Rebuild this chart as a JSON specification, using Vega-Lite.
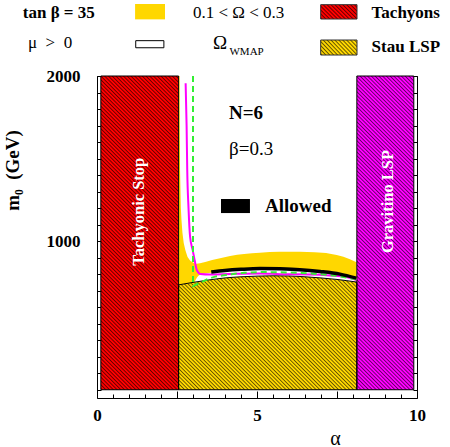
{
"$schema": "https://vega.github.io/schema/vega-lite/v6.json",
"width": 320, "height": 322,
"autosize": {"type": "none"},
"padding": {"left": 97, "top": 76, "right": 33, "bottom": 49},
"background": "white",
"config": {
 "view": {"stroke": "black", "strokeWidth": 1},
 "axis": {"domain": false, "grid": false, "tickColor": "black", "tickWidth": 1, "labelFont": "Liberation Serif", "labelFontSize": 17, "labelFontWeight": "bold", "labelColor": "black", "titleFont": "Liberation Serif", "titleColor": "black", "labelFlush": false, "labelOverlap": false}
},
"resolve": {"axis": {"x": "independent", "y": "independent"}},
"datasets": {
 "stau": [{"a":2.55,"top":735},{"a":3.0,"top":750},{"a":3.5,"top":765},{"a":4.0,"top":777},{"a":4.5,"top":784},{"a":5.0,"top":788},{"a":5.5,"top":790},{"a":6.0,"top":789},{"a":6.5,"top":784},{"a":7.0,"top":777},{"a":7.5,"top":768},{"a":8.12,"top":752}],
 "band": [{"a":2.56,"lo":735,"hi":858},{"a":3.0,"lo":750,"hi":860},{"a":3.22,"lo":757,"hi":866},{"a":3.6,"lo":767,"hi":885},{"a":4.16,"lo":779,"hi":910},{"a":4.6,"lo":785,"hi":922},{"a":5.09,"lo":788,"hi":930},{"a":5.7,"lo":790,"hi":935},{"a":6.34,"lo":786,"hi":936},{"a":6.8,"lo":780,"hi":932},{"a":7.28,"lo":772,"hi":924},{"a":7.7,"lo":764,"hi":905},{"a":8.11,"lo":752,"hi":872}],
 "funnel": [{"m":745,"r":3.1},{"m":860,"r":3.1},{"m":880,"r":2.92},{"m":904,"r":2.83},{"m":946,"r":2.76},{"m":989,"r":2.71},{"m":1050,"r":2.67},{"m":1128,"r":2.64},{"m":1200,"r":2.62},{"m":1431,"r":2.595},{"m":1700,"r":2.585},{"m":2000,"r":2.58}],
 "wmap": [{"a":3.05,"lo":751,"hi":753},{"a":3.2,"lo":756,"hi":795},{"a":3.6,"lo":767,"hi":810},{"a":4.0,"lo":777,"hi":818},{"a":4.5,"lo":784,"hi":826},{"a":5.0,"lo":788,"hi":830},{"a":5.5,"lo":790,"hi":832},{"a":6.0,"lo":789,"hi":830},{"a":6.5,"lo":784,"hi":825},{"a":7.0,"lo":777,"hi":815},{"a":7.5,"lo":768,"hi":800},{"a":8.11,"lo":752,"hi":772}],
 "magenta": [{"a":2.77,"m":1956},{"a":2.8,"m":1700},{"a":2.82,"m":1431},{"a":2.86,"m":1200},{"a":2.91,"m":1025},{"a":2.99,"m":946},{"a":3.05,"m":886},{"a":3.12,"m":825},{"a":3.23,"m":801},{"a":3.53,"m":798},{"a":4.16,"m":801},{"a":5.09,"m":804},{"a":5.72,"m":800},{"a":6.66,"m":798},{"a":7.28,"m":792},{"a":7.8,"m":782},{"a":8.1,"m":765}],
 "green": [{"a":3.0,"m":2000},{"a":3.0,"m":728},{"a":3.22,"m":748},{"a":3.47,"m":771},{"a":3.69,"m":785},{"a":4.2,"m":800},{"a":4.6,"m":808},{"a":5.09,"m":813},{"a":5.72,"m":811},{"a":6.3,"m":808},{"a":6.9,"m":801},{"a":7.5,"m":790},{"a":8.1,"m":769}],
 "allowed": [{"a":3.57,"m":813},{"a":4.0,"m":822},{"a":4.5,"m":829},{"a":5.09,"m":834},{"a":5.72,"m":832},{"a":6.34,"m":827},{"a":6.97,"m":816},{"a":7.59,"m":800},{"a":8.1,"m":776}]
},
"layer": [
 {"data": {"values": [{"a0":0.12,"a1":2.55,"m0":100,"m1":2000}]},
  "mark": {"type": "rect", "fill": "#ff0000"},
  "encoding": {
   "x": {"field": "a0", "type": "quantitative", "scale": {"domain": [0,10], "nice": false, "zero": false},
         "axis": {"orient": "bottom", "values": [0,2.5,5,7.5,10], "tickSize": -7, "labelPadding": 16, "labelExpr": "datum.value % 5 == 0 ? '' + datum.value : ''", "title": "α", "titleFontSize": 20, "titleFontWeight": "normal", "titleX": 238, "titleY": 46, "titleBaseline": "alphabetic", "titleAlign": "center", "titleAngle": 0}},
   "x2": {"field": "a1"},
   "y": {"field": "m0", "type": "quantitative", "scale": {"domain": [50,2000], "nice": false, "zero": false},
         "axis": {"orient": "left", "values": [1000,2000], "tickSize": -7, "labelPadding": 24, "format": "d", "title": "m\u2080\u00a0 (GeV)", "titleFontSize": 19, "titleFontWeight": "bold", "titleX": -85, "titleY": 94, "titleAngle": 270, "titleAlign": "center", "titleBaseline": "middle"}},
   "y2": {"field": "m1"}
  }},
 {"data": {"values": [{"a0":8.12,"a1":9.9,"m0":100,"m1":2000}]},
  "mark": {"type": "rect", "fill": "#ff00ff"},
  "encoding": {
   "x": {"field": "a0", "type": "quantitative", "axis": {"orient": "bottom", "values": [0.5,1,1.5,2,3,3.5,4,4.5,5.5,6,6.5,7,8,8.5,9,9.5], "tickSize": -4, "labels": false, "title": null}},
   "x2": {"field": "a1"},
   "y": {"field": "m0", "type": "quantitative", "axis": {"orient": "left", "values": [100,200,300,400,500,600,700,800,900,1100,1200,1300,1400,1500,1600,1700,1800,1900], "tickSize": -4, "labels": false, "title": null}},
   "y2": {"field": "m1"}
  }},
 {"data": {"name": "stau"},
  "mark": {"type": "area", "fill": "#ffd700", "interpolate": "monotone"},
  "encoding": {
   "x": {"field": "a", "type": "quantitative", "axis": null},
   "y": {"field": "top", "type": "quantitative", "axis": null},
   "y2": {"datum": 100}
  }},
 {"data": {"values": [{}]},
  "mark": {"type": "rect", "fillOpacity": 0.62, "fill": {"gradient": "linear", "x1": 0, "y1": 1, "x2": 1, "y2": 0, "stops": [
{"offset":0,"color":"#0000"},{"offset":0.002,"color":"#000"},{"offset":0.004,"color":"#0000"},{"offset":0.006,"color":"#0000"},{"offset":0.008,"color":"#000"},{"offset":0.01,"color":"#0000"},{"offset":0.012,"color":"#0000"},{"offset":0.014,"color":"#000"},{"offset":0.016,"color":"#0000"},{"offset":0.018,"color":"#0000"},{"offset":0.02,"color":"#000"},{"offset":0.022,"color":"#0000"},{"offset":0.024,"color":"#0000"},{"offset":0.026,"color":"#000"},{"offset":0.028,"color":"#0000"},{"offset":0.03,"color":"#0000"},{"offset":0.032,"color":"#000"},{"offset":0.034,"color":"#0000"},{"offset":0.036,"color":"#0000"},{"offset":0.038,"color":"#000"},{"offset":0.04,"color":"#0000"},{"offset":0.042,"color":"#0000"},{"offset":0.044,"color":"#000"},{"offset":0.046,"color":"#0000"},{"offset":0.048,"color":"#0000"},{"offset":0.05,"color":"#000"},{"offset":0.052,"color":"#0000"},{"offset":0.054,"color":"#0000"},{"offset":0.056,"color":"#000"},{"offset":0.058,"color":"#0000"},
{"offset":0.06,"color":"#0000"},{"offset":0.062,"color":"#000"},{"offset":0.064,"color":"#0000"},{"offset":0.066,"color":"#0000"},{"offset":0.068,"color":"#000"},{"offset":0.07,"color":"#0000"},{"offset":0.072,"color":"#0000"},{"offset":0.074,"color":"#000"},{"offset":0.076,"color":"#0000"},{"offset":0.078,"color":"#0000"},{"offset":0.08,"color":"#000"},{"offset":0.082,"color":"#0000"},{"offset":0.084,"color":"#0000"},{"offset":0.086,"color":"#000"},{"offset":0.088,"color":"#0000"},{"offset":0.09,"color":"#0000"},{"offset":0.092,"color":"#000"},{"offset":0.094,"color":"#0000"},{"offset":0.096,"color":"#0000"},{"offset":0.098,"color":"#000"},{"offset":0.1,"color":"#0000"},{"offset":0.102,"color":"#0000"},{"offset":0.104,"color":"#000"},{"offset":0.106,"color":"#0000"},{"offset":0.108,"color":"#0000"},{"offset":0.11,"color":"#000"},{"offset":0.112,"color":"#0000"},{"offset":0.114,"color":"#0000"},{"offset":0.116,"color":"#000"},{"offset":0.118,"color":"#0000"},
{"offset":0.12,"color":"#0000"},{"offset":0.122,"color":"#000"},{"offset":0.124,"color":"#0000"},{"offset":0.126,"color":"#0000"},{"offset":0.128,"color":"#000"},{"offset":0.13,"color":"#0000"},{"offset":0.132,"color":"#0000"},{"offset":0.134,"color":"#000"},{"offset":0.136,"color":"#0000"},{"offset":0.138,"color":"#0000"},{"offset":0.14,"color":"#000"},{"offset":0.142,"color":"#0000"},{"offset":0.144,"color":"#0000"},{"offset":0.146,"color":"#000"},{"offset":0.148,"color":"#0000"},{"offset":0.15,"color":"#0000"},{"offset":0.152,"color":"#000"},{"offset":0.154,"color":"#0000"},{"offset":0.156,"color":"#0000"},{"offset":0.158,"color":"#000"},{"offset":0.16,"color":"#0000"},{"offset":0.162,"color":"#0000"},{"offset":0.164,"color":"#000"},{"offset":0.166,"color":"#0000"},{"offset":0.168,"color":"#0000"},{"offset":0.17,"color":"#000"},{"offset":0.172,"color":"#0000"},{"offset":0.174,"color":"#0000"},{"offset":0.176,"color":"#000"},{"offset":0.178,"color":"#0000"},
{"offset":0.18,"color":"#0000"},{"offset":0.182,"color":"#000"},{"offset":0.184,"color":"#0000"},{"offset":0.186,"color":"#0000"},{"offset":0.188,"color":"#000"},{"offset":0.19,"color":"#0000"},{"offset":0.192,"color":"#0000"},{"offset":0.194,"color":"#000"},{"offset":0.196,"color":"#0000"},{"offset":0.198,"color":"#0000"},{"offset":0.2,"color":"#000"},{"offset":0.202,"color":"#0000"},{"offset":0.204,"color":"#0000"},{"offset":0.206,"color":"#000"},{"offset":0.208,"color":"#0000"},{"offset":0.21,"color":"#0000"},{"offset":0.212,"color":"#000"},{"offset":0.214,"color":"#0000"},{"offset":0.216,"color":"#0000"},{"offset":0.218,"color":"#000"},{"offset":0.22,"color":"#0000"},{"offset":0.222,"color":"#0000"},{"offset":0.224,"color":"#000"},{"offset":0.226,"color":"#0000"},{"offset":0.228,"color":"#0000"},{"offset":0.23,"color":"#000"},{"offset":0.232,"color":"#0000"},{"offset":0.234,"color":"#0000"},{"offset":0.236,"color":"#000"},{"offset":0.238,"color":"#0000"},
{"offset":0.24,"color":"#0000"},{"offset":0.242,"color":"#000"},{"offset":0.244,"color":"#0000"},{"offset":0.246,"color":"#0000"},{"offset":0.248,"color":"#000"},{"offset":0.25,"color":"#0000"},{"offset":0.252,"color":"#0000"},{"offset":0.254,"color":"#000"},{"offset":0.256,"color":"#0000"},{"offset":0.258,"color":"#0000"},{"offset":0.26,"color":"#000"},{"offset":0.262,"color":"#0000"},{"offset":0.264,"color":"#0000"},{"offset":0.266,"color":"#000"},{"offset":0.268,"color":"#0000"},{"offset":0.27,"color":"#0000"},{"offset":0.272,"color":"#000"},{"offset":0.274,"color":"#0000"},{"offset":0.276,"color":"#0000"},{"offset":0.278,"color":"#000"},{"offset":0.28,"color":"#0000"},{"offset":0.282,"color":"#0000"},{"offset":0.284,"color":"#000"},{"offset":0.286,"color":"#0000"},{"offset":0.288,"color":"#0000"},{"offset":0.29,"color":"#000"},{"offset":0.292,"color":"#0000"},{"offset":0.294,"color":"#0000"},{"offset":0.296,"color":"#000"},{"offset":0.298,"color":"#0000"},
{"offset":0.3,"color":"#0000"},{"offset":0.302,"color":"#000"},{"offset":0.304,"color":"#0000"},{"offset":0.306,"color":"#0000"},{"offset":0.308,"color":"#000"},{"offset":0.31,"color":"#0000"},{"offset":0.312,"color":"#0000"},{"offset":0.314,"color":"#000"},{"offset":0.316,"color":"#0000"},{"offset":0.318,"color":"#0000"},{"offset":0.32,"color":"#000"},{"offset":0.322,"color":"#0000"},{"offset":0.324,"color":"#0000"},{"offset":0.326,"color":"#000"},{"offset":0.328,"color":"#0000"},{"offset":0.33,"color":"#0000"},{"offset":0.332,"color":"#000"},{"offset":0.334,"color":"#0000"},{"offset":0.336,"color":"#0000"},{"offset":0.338,"color":"#000"},{"offset":0.34,"color":"#0000"},{"offset":0.342,"color":"#0000"},{"offset":0.344,"color":"#000"},{"offset":0.346,"color":"#0000"},{"offset":0.348,"color":"#0000"},{"offset":0.35,"color":"#000"},{"offset":0.352,"color":"#0000"},{"offset":0.354,"color":"#0000"},{"offset":0.356,"color":"#000"},{"offset":0.358,"color":"#0000"},
{"offset":0.36,"color":"#0000"},{"offset":0.362,"color":"#000"},{"offset":0.364,"color":"#0000"},{"offset":0.366,"color":"#0000"},{"offset":0.368,"color":"#000"},{"offset":0.37,"color":"#0000"},{"offset":0.372,"color":"#0000"},{"offset":0.374,"color":"#000"},{"offset":0.376,"color":"#0000"},{"offset":0.378,"color":"#0000"},{"offset":0.38,"color":"#000"},{"offset":0.382,"color":"#0000"},{"offset":0.384,"color":"#0000"},{"offset":0.386,"color":"#000"},{"offset":0.388,"color":"#0000"},{"offset":0.39,"color":"#0000"},{"offset":0.392,"color":"#000"},{"offset":0.394,"color":"#0000"},{"offset":0.396,"color":"#0000"},{"offset":0.398,"color":"#000"},{"offset":0.4,"color":"#0000"},{"offset":0.402,"color":"#0000"},{"offset":0.404,"color":"#000"},{"offset":0.406,"color":"#0000"},{"offset":0.408,"color":"#0000"},{"offset":0.41,"color":"#000"},{"offset":0.412,"color":"#0000"},{"offset":0.414,"color":"#0000"},{"offset":0.416,"color":"#000"},{"offset":0.418,"color":"#0000"},
{"offset":0.42,"color":"#0000"},{"offset":0.422,"color":"#000"},{"offset":0.424,"color":"#0000"},{"offset":0.426,"color":"#0000"},{"offset":0.428,"color":"#000"},{"offset":0.43,"color":"#0000"},{"offset":0.432,"color":"#0000"},{"offset":0.434,"color":"#000"},{"offset":0.436,"color":"#0000"},{"offset":0.438,"color":"#0000"},{"offset":0.44,"color":"#000"},{"offset":0.442,"color":"#0000"},{"offset":0.444,"color":"#0000"},{"offset":0.446,"color":"#000"},{"offset":0.448,"color":"#0000"},{"offset":0.45,"color":"#0000"},{"offset":0.452,"color":"#000"},{"offset":0.454,"color":"#0000"},{"offset":0.456,"color":"#0000"},{"offset":0.458,"color":"#000"},{"offset":0.46,"color":"#0000"},{"offset":0.462,"color":"#0000"},{"offset":0.464,"color":"#000"},{"offset":0.466,"color":"#0000"},{"offset":0.468,"color":"#0000"},{"offset":0.47,"color":"#000"},{"offset":0.472,"color":"#0000"},{"offset":0.474,"color":"#0000"},{"offset":0.476,"color":"#000"},{"offset":0.478,"color":"#0000"},
{"offset":0.48,"color":"#0000"},{"offset":0.482,"color":"#000"},{"offset":0.484,"color":"#0000"},{"offset":0.486,"color":"#0000"},{"offset":0.488,"color":"#000"},{"offset":0.49,"color":"#0000"},{"offset":0.492,"color":"#0000"},{"offset":0.494,"color":"#000"},{"offset":0.496,"color":"#0000"},{"offset":0.498,"color":"#0000"},{"offset":0.5,"color":"#000"},{"offset":0.502,"color":"#0000"},{"offset":0.504,"color":"#0000"},{"offset":0.506,"color":"#000"},{"offset":0.508,"color":"#0000"},{"offset":0.51,"color":"#0000"},{"offset":0.512,"color":"#000"},{"offset":0.514,"color":"#0000"},{"offset":0.516,"color":"#0000"},{"offset":0.518,"color":"#000"},{"offset":0.52,"color":"#0000"},{"offset":0.522,"color":"#0000"},{"offset":0.524,"color":"#000"},{"offset":0.526,"color":"#0000"},{"offset":0.528,"color":"#0000"},{"offset":0.53,"color":"#000"},{"offset":0.532,"color":"#0000"},{"offset":0.534,"color":"#0000"},{"offset":0.536,"color":"#000"},{"offset":0.538,"color":"#0000"},
{"offset":0.54,"color":"#0000"},{"offset":0.542,"color":"#000"},{"offset":0.544,"color":"#0000"},{"offset":0.546,"color":"#0000"},{"offset":0.548,"color":"#000"},{"offset":0.55,"color":"#0000"},{"offset":0.552,"color":"#0000"},{"offset":0.554,"color":"#000"},{"offset":0.556,"color":"#0000"},{"offset":0.558,"color":"#0000"},{"offset":0.56,"color":"#000"},{"offset":0.562,"color":"#0000"},{"offset":0.564,"color":"#0000"},{"offset":0.566,"color":"#000"},{"offset":0.568,"color":"#0000"},{"offset":0.57,"color":"#0000"},{"offset":0.572,"color":"#000"},{"offset":0.574,"color":"#0000"},{"offset":0.576,"color":"#0000"},{"offset":0.578,"color":"#000"},{"offset":0.58,"color":"#0000"},{"offset":0.582,"color":"#0000"},{"offset":0.584,"color":"#000"},{"offset":0.586,"color":"#0000"},{"offset":0.588,"color":"#0000"},{"offset":0.59,"color":"#000"},{"offset":0.592,"color":"#0000"},{"offset":0.594,"color":"#0000"},{"offset":0.596,"color":"#000"},{"offset":0.598,"color":"#0000"},
{"offset":0.6,"color":"#0000"},{"offset":0.602,"color":"#000"},{"offset":0.604,"color":"#0000"},{"offset":0.606,"color":"#0000"},{"offset":0.608,"color":"#000"},{"offset":0.61,"color":"#0000"},{"offset":0.612,"color":"#0000"},{"offset":0.614,"color":"#000"},{"offset":0.616,"color":"#0000"},{"offset":0.618,"color":"#0000"},{"offset":0.62,"color":"#000"},{"offset":0.622,"color":"#0000"},{"offset":0.624,"color":"#0000"},{"offset":0.626,"color":"#000"},{"offset":0.628,"color":"#0000"},{"offset":0.63,"color":"#0000"},{"offset":0.632,"color":"#000"},{"offset":0.634,"color":"#0000"},{"offset":0.636,"color":"#0000"},{"offset":0.638,"color":"#000"},{"offset":0.64,"color":"#0000"},{"offset":0.642,"color":"#0000"},{"offset":0.644,"color":"#000"},{"offset":0.646,"color":"#0000"},{"offset":0.648,"color":"#0000"},{"offset":0.65,"color":"#000"},{"offset":0.652,"color":"#0000"},{"offset":0.654,"color":"#0000"},{"offset":0.656,"color":"#000"},{"offset":0.658,"color":"#0000"},
{"offset":0.66,"color":"#0000"},{"offset":0.662,"color":"#000"},{"offset":0.664,"color":"#0000"},{"offset":0.666,"color":"#0000"},{"offset":0.668,"color":"#000"},{"offset":0.67,"color":"#0000"},{"offset":0.672,"color":"#0000"},{"offset":0.674,"color":"#000"},{"offset":0.676,"color":"#0000"},{"offset":0.678,"color":"#0000"},{"offset":0.68,"color":"#000"},{"offset":0.682,"color":"#0000"},{"offset":0.684,"color":"#0000"},{"offset":0.686,"color":"#000"},{"offset":0.688,"color":"#0000"},{"offset":0.69,"color":"#0000"},{"offset":0.692,"color":"#000"},{"offset":0.694,"color":"#0000"},{"offset":0.696,"color":"#0000"},{"offset":0.698,"color":"#000"},{"offset":0.7,"color":"#0000"},{"offset":0.702,"color":"#0000"},{"offset":0.704,"color":"#000"},{"offset":0.706,"color":"#0000"},{"offset":0.708,"color":"#0000"},{"offset":0.71,"color":"#000"},{"offset":0.712,"color":"#0000"},{"offset":0.714,"color":"#0000"},{"offset":0.716,"color":"#000"},{"offset":0.718,"color":"#0000"},
{"offset":0.72,"color":"#0000"},{"offset":0.722,"color":"#000"},{"offset":0.724,"color":"#0000"},{"offset":0.726,"color":"#0000"},{"offset":0.728,"color":"#000"},{"offset":0.73,"color":"#0000"},{"offset":0.732,"color":"#0000"},{"offset":0.734,"color":"#000"},{"offset":0.736,"color":"#0000"},{"offset":0.738,"color":"#0000"},{"offset":0.74,"color":"#000"},{"offset":0.742,"color":"#0000"},{"offset":0.744,"color":"#0000"},{"offset":0.746,"color":"#000"},{"offset":0.748,"color":"#0000"},{"offset":0.75,"color":"#0000"},{"offset":0.752,"color":"#000"},{"offset":0.754,"color":"#0000"},{"offset":0.756,"color":"#0000"},{"offset":0.758,"color":"#000"},{"offset":0.76,"color":"#0000"},{"offset":0.762,"color":"#0000"},{"offset":0.764,"color":"#000"},{"offset":0.766,"color":"#0000"},{"offset":0.768,"color":"#0000"},{"offset":0.77,"color":"#000"},{"offset":0.772,"color":"#0000"},{"offset":0.774,"color":"#0000"},{"offset":0.776,"color":"#000"},{"offset":0.778,"color":"#0000"},
{"offset":0.78,"color":"#0000"},{"offset":0.782,"color":"#000"},{"offset":0.784,"color":"#0000"},{"offset":0.786,"color":"#0000"},{"offset":0.788,"color":"#000"},{"offset":0.79,"color":"#0000"},{"offset":0.792,"color":"#0000"},{"offset":0.794,"color":"#000"},{"offset":0.796,"color":"#0000"},{"offset":0.798,"color":"#0000"},{"offset":0.8,"color":"#000"},{"offset":0.802,"color":"#0000"},{"offset":0.804,"color":"#0000"},{"offset":0.806,"color":"#000"},{"offset":0.808,"color":"#0000"},{"offset":0.81,"color":"#0000"},{"offset":0.812,"color":"#000"},{"offset":0.814,"color":"#0000"},{"offset":0.816,"color":"#0000"},{"offset":0.818,"color":"#000"},{"offset":0.82,"color":"#0000"},{"offset":0.822,"color":"#0000"},{"offset":0.824,"color":"#000"},{"offset":0.826,"color":"#0000"},{"offset":0.828,"color":"#0000"},{"offset":0.83,"color":"#000"},{"offset":0.832,"color":"#0000"},{"offset":0.834,"color":"#0000"},{"offset":0.836,"color":"#000"},{"offset":0.838,"color":"#0000"},
{"offset":0.84,"color":"#0000"},{"offset":0.842,"color":"#000"},{"offset":0.844,"color":"#0000"},{"offset":0.846,"color":"#0000"},{"offset":0.848,"color":"#000"},{"offset":0.85,"color":"#0000"},{"offset":0.852,"color":"#0000"},{"offset":0.854,"color":"#000"},{"offset":0.856,"color":"#0000"},{"offset":0.858,"color":"#0000"},{"offset":0.86,"color":"#000"},{"offset":0.862,"color":"#0000"},{"offset":0.864,"color":"#0000"},{"offset":0.866,"color":"#000"},{"offset":0.868,"color":"#0000"},{"offset":0.87,"color":"#0000"},{"offset":0.872,"color":"#000"},{"offset":0.874,"color":"#0000"},{"offset":0.876,"color":"#0000"},{"offset":0.878,"color":"#000"},{"offset":0.88,"color":"#0000"},{"offset":0.882,"color":"#0000"},{"offset":0.884,"color":"#000"},{"offset":0.886,"color":"#0000"},{"offset":0.888,"color":"#0000"},{"offset":0.89,"color":"#000"},{"offset":0.892,"color":"#0000"},{"offset":0.894,"color":"#0000"},{"offset":0.896,"color":"#000"},{"offset":0.898,"color":"#0000"},
{"offset":0.9,"color":"#0000"},{"offset":0.902,"color":"#000"},{"offset":0.904,"color":"#0000"},{"offset":0.906,"color":"#0000"},{"offset":0.908,"color":"#000"},{"offset":0.91,"color":"#0000"},{"offset":0.912,"color":"#0000"},{"offset":0.914,"color":"#000"},{"offset":0.916,"color":"#0000"},{"offset":0.918,"color":"#0000"},{"offset":0.92,"color":"#000"},{"offset":0.922,"color":"#0000"},{"offset":0.924,"color":"#0000"},{"offset":0.926,"color":"#000"},{"offset":0.928,"color":"#0000"},{"offset":0.93,"color":"#0000"},{"offset":0.932,"color":"#000"},{"offset":0.934,"color":"#0000"},{"offset":0.936,"color":"#0000"},{"offset":0.938,"color":"#000"},{"offset":0.94,"color":"#0000"},{"offset":0.942,"color":"#0000"},{"offset":0.944,"color":"#000"},{"offset":0.946,"color":"#0000"},{"offset":0.948,"color":"#0000"},{"offset":0.95,"color":"#000"},{"offset":0.952,"color":"#0000"},{"offset":0.954,"color":"#0000"},{"offset":0.956,"color":"#000"},{"offset":0.958,"color":"#0000"},
{"offset":0.96,"color":"#0000"},{"offset":0.962,"color":"#000"},{"offset":0.964,"color":"#0000"},{"offset":0.966,"color":"#0000"},{"offset":0.968,"color":"#000"},{"offset":0.97,"color":"#0000"},{"offset":0.972,"color":"#0000"},{"offset":0.974,"color":"#000"},{"offset":0.976,"color":"#0000"},{"offset":0.978,"color":"#0000"},{"offset":0.98,"color":"#000"},{"offset":0.982,"color":"#0000"},{"offset":0.984,"color":"#0000"},{"offset":0.986,"color":"#000"},{"offset":0.988,"color":"#0000"},{"offset":0.99,"color":"#0000"},{"offset":0.992,"color":"#000"},{"offset":0.994,"color":"#0000"},{"offset":0.996,"color":"#0000"},{"offset":0.998,"color":"#000"},{"offset":1,"color":"#0000"}
  ]}},
  "encoding": {
   "x": {"datum": 0.12, "type": "quantitative", "axis": {"orient": "top", "values": [0,2.5,5,7.5,10], "tickSize": -7, "labels": false, "title": null}},
   "x2": {"datum": 9.9},
   "y": {"datum": 100, "type": "quantitative", "axis": {"orient": "right", "values": [1000,2000], "tickSize": -7, "labels": false, "title": null}},
   "y2": {"datum": 2000}
  }},
 {"data": {"name": "stau"},
  "mark": {"type": "area", "fill": "white", "interpolate": "monotone"},
  "encoding": {
   "x": {"field": "a", "type": "quantitative", "axis": {"orient": "top", "values": [0.5,1,1.5,2,3,3.5,4,4.5,5.5,6,6.5,7,8,8.5,9,9.5], "tickSize": -4, "labels": false, "title": null}},
   "y": {"field": "top", "type": "quantitative", "axis": {"orient": "right", "values": [100,200,300,400,500,600,700,800,900,1100,1200,1300,1400,1500,1600,1700,1800,1900], "tickSize": -4, "labels": false, "title": null}},
   "y2": {"datum": 2000}
  }},
 {"data": {"name": "band"},
  "mark": {"type": "area", "fill": "#ffd700", "interpolate": "monotone"},
  "encoding": {
   "x": {"field": "a", "type": "quantitative", "axis": null},
   "y": {"field": "hi", "type": "quantitative", "axis": null},
   "y2": {"field": "lo"}
  }},
 {"data": {"name": "funnel"},
  "mark": {"type": "area", "orient": "horizontal", "fill": "#ffd700"},
  "encoding": {
   "y": {"field": "m", "type": "quantitative", "axis": null},
   "x": {"field": "r", "type": "quantitative", "axis": null},
   "x2": {"datum": 2.56}
  }},
 {"data": {"name": "wmap"},
  "mark": {"type": "area", "fill": "white", "interpolate": "monotone"},
  "encoding": {
   "x": {"field": "a", "type": "quantitative", "axis": null},
   "y": {"field": "hi", "type": "quantitative", "axis": null},
   "y2": {"field": "lo"}
  }},
 {"data": {"name": "stau"},
  "mark": {"type": "area", "fillOpacity": 0, "stroke": "black", "strokeWidth": 1, "interpolate": "monotone"},
  "encoding": {
   "x": {"field": "a", "type": "quantitative", "axis": null},
   "y": {"field": "top", "type": "quantitative", "axis": null},
   "y2": {"datum": 100}
  }},
 {"data": {"values": [{"a0":0.12,"a1":2.55,"m0":100,"m1":2000},{"a0":8.12,"a1":9.9,"m0":100,"m1":2000}]},
  "mark": {"type": "rect", "fillOpacity": 0, "stroke": "black", "strokeWidth": 1},
  "encoding": {
   "x": {"field": "a0", "type": "quantitative", "axis": null},
   "x2": {"field": "a1"},
   "y": {"field": "m0", "type": "quantitative", "axis": null},
   "y2": {"field": "m1"}
  }},
 {"data": {"name": "magenta"},
  "mark": {"type": "line", "color": "#ff00ff", "strokeWidth": 2, "interpolate": "monotone"},
  "encoding": {
   "x": {"field": "a", "type": "quantitative", "axis": null},
   "y": {"field": "m", "type": "quantitative", "axis": null}
  }},
 {"data": {"name": "green"},
  "mark": {"type": "line", "color": "#33ee33", "strokeWidth": 2, "strokeDash": [6,4]},
  "encoding": {
   "x": {"field": "a", "type": "quantitative", "axis": null},
   "y": {"field": "m", "type": "quantitative", "axis": null},
   "order": {"value": null}
  }},
 {"data": {"name": "allowed"},
  "mark": {"type": "line", "color": "black", "strokeWidth": 3.5, "interpolate": "monotone"},
  "encoding": {
   "x": {"field": "a", "type": "quantitative", "axis": null},
   "y": {"field": "m", "type": "quantitative", "axis": null}
  }},
 {"data": {"values": [{"a0":3.875,"a1":4.78,"m0":1170,"m1":1255}]},
  "mark": {"type": "rect", "fill": "black"},
  "encoding": {
   "x": {"field": "a0", "type": "quantitative", "axis": null},
   "x2": {"field": "a1"},
   "y": {"field": "m0", "type": "quantitative", "axis": null},
   "y2": {"field": "m1"}
  }},
 {"data": {"values": [{"a":4.125,"m":1776,"label":"N=6"},{"a":5.25,"m":1213,"label":"Allowed"}]},
  "mark": {"type": "text", "font": "Liberation Serif", "fontSize": 19, "fontWeight": "bold", "align": "left", "baseline": "middle", "color": "black"},
  "encoding": {
   "x": {"field": "a", "type": "quantitative", "axis": null},
   "y": {"field": "m", "type": "quantitative", "axis": null},
   "text": {"field": "label"}
  }},
 {"data": {"values": [{"a":4.125,"m":1558,"label":"β=0.3"},{"a":3.625,"m":2200,"label":"Ω"}]},
  "mark": {"type": "text", "font": "Liberation Serif", "fontSize": 19, "align": "left", "baseline": "middle", "color": "black"},
  "encoding": {
   "x": {"field": "a", "type": "quantitative", "axis": null},
   "y": {"field": "m", "type": "quantitative", "axis": null},
   "text": {"field": "label"}
  }},
 {"data": {"values": [{"a":1.3,"m":1178,"label":"Tachyonic Stop"},{"a":9.08,"m":1240,"label":"Gravitino LSP"}]},
  "mark": {"type": "text", "font": "Liberation Serif", "fontSize": 16.5, "fontWeight": "bold", "align": "center", "baseline": "middle", "angle": 270, "color": "white"},
  "encoding": {
   "x": {"field": "a", "type": "quantitative", "axis": null},
   "y": {"field": "m", "type": "quantitative", "axis": null},
   "text": {"field": "label"}
  }},
 {"data": {"values": [{"a":-2.32,"m":2379,"label":"tan β = 35"},{"a":8.58,"m":2379,"label":"Tachyons"},{"a":8.58,"m":2173,"label":"Stau LSP"}]},
  "mark": {"type": "text", "font": "Liberation Serif", "fontSize": 17, "fontWeight": "bold", "align": "left", "baseline": "middle", "color": "black"},
  "encoding": {
   "x": {"field": "a", "type": "quantitative", "axis": null},
   "y": {"field": "m", "type": "quantitative", "axis": null},
   "text": {"field": "label"}
  }},
 {"data": {"values": [{"a":3.0,"m":2379,"label":"0.1 < Ω < 0.3"},{"a":-2.156,"m":2200,"label":"μ\u00a0 >\u00a0 0"}]},
  "mark": {"type": "text", "font": "Liberation Serif", "fontSize": 17, "align": "left", "baseline": "middle", "color": "black"},
  "encoding": {
   "x": {"field": "a", "type": "quantitative", "axis": null},
   "y": {"field": "m", "type": "quantitative", "axis": null},
   "text": {"field": "label"}
  }},
 {"data": {"values": [{"a":4.14,"m":2145,"label":"WMAP"}]},
  "mark": {"type": "text", "font": "Liberation Serif", "fontSize": 11, "align": "left", "baseline": "middle", "color": "black"},
  "encoding": {
   "x": {"field": "a", "type": "quantitative", "axis": null},
   "y": {"field": "m", "type": "quantitative", "axis": null},
   "text": {"field": "label"}
  }},
 {"data": {"values": [{"a0":1.19,"a1":2.125,"m0":2343,"m1":2436},{"a0":6.99,"a1":8.125,"m0":2127,"m1":2218}]},
  "mark": {"type": "rect", "fill": "#ffd700"},
  "encoding": {
   "x": {"field": "a0", "type": "quantitative", "axis": null},
   "x2": {"field": "a1"},
   "y": {"field": "m0", "type": "quantitative", "axis": null},
   "y2": {"field": "m1"}
  }},
 {"data": {"values": [{"a0":6.99,"a1":8.125,"m0":2345,"m1":2432}]},
  "mark": {"type": "rect", "fill": "#ff0000"},
  "encoding": {
   "x": {"field": "a0", "type": "quantitative", "axis": null},
   "x2": {"field": "a1"},
   "y": {"field": "m0", "type": "quantitative", "axis": null},
   "y2": {"field": "m1"}
  }},
 {"data": {"values": [{"a0":1.21,"a1":2.09,"m0":2171,"m1":2214}]},
  "mark": {"type": "rect", "fill": "white", "stroke": "black", "strokeWidth": 1},
  "encoding": {
   "x": {"field": "a0", "type": "quantitative", "axis": null},
   "x2": {"field": "a1"},
   "y": {"field": "m0", "type": "quantitative", "axis": null},
   "y2": {"field": "m1"}
  }},
 {"data": {"values": [{"a0":6.99,"a1":8.125,"m0":2345,"m1":2432},{"a0":6.99,"a1":8.125,"m0":2127,"m1":2218}]},
  "mark": {"type": "rect", "fillOpacity": 0.62, "stroke": "#333333", "strokeWidth": 1, "fill": {"gradient": "linear", "x1": 0, "y1": 1, "x2": 1.207, "y2": 0.518, "stops": [
{"offset":0,"color":"#0000"},{"offset":0.0256,"color":"#000"},{"offset":0.0513,"color":"#0000"},{"offset":0.0769,"color":"#0000"},{"offset":0.1026,"color":"#000"},{"offset":0.1282,"color":"#0000"},{"offset":0.1538,"color":"#0000"},{"offset":0.1795,"color":"#000"},{"offset":0.2051,"color":"#0000"},{"offset":0.2308,"color":"#0000"},{"offset":0.2564,"color":"#000"},{"offset":0.2821,"color":"#0000"},{"offset":0.3077,"color":"#0000"},{"offset":0.3333,"color":"#000"},{"offset":0.359,"color":"#0000"},{"offset":0.3846,"color":"#0000"},{"offset":0.4103,"color":"#000"},{"offset":0.4359,"color":"#0000"},{"offset":0.4615,"color":"#0000"},{"offset":0.4872,"color":"#000"},{"offset":0.5128,"color":"#0000"},{"offset":0.5385,"color":"#0000"},{"offset":0.5641,"color":"#000"},{"offset":0.5897,"color":"#0000"},{"offset":0.6154,"color":"#0000"},{"offset":0.641,"color":"#000"},{"offset":0.6667,"color":"#0000"},{"offset":0.6923,"color":"#0000"},{"offset":0.7179,"color":"#000"},{"offset":0.7436,"color":"#0000"},{"offset":0.7692,"color":"#0000"},{"offset":0.7949,"color":"#000"},{"offset":0.8205,"color":"#0000"},{"offset":0.8462,"color":"#0000"},{"offset":0.8718,"color":"#000"},{"offset":0.8974,"color":"#0000"},{"offset":0.9231,"color":"#0000"},{"offset":0.9487,"color":"#000"},{"offset":0.9744,"color":"#0000"},{"offset":1,"color":"#0000"}
  ]}},
  "encoding": {
   "x": {"field": "a0", "type": "quantitative", "axis": null},
   "x2": {"field": "a1"},
   "y": {"field": "m0", "type": "quantitative", "axis": null},
   "y2": {"field": "m1"}
  }}
]
}
